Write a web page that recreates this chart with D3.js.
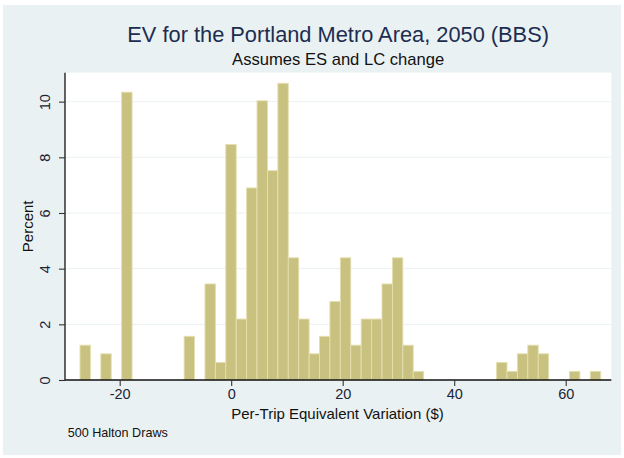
<!DOCTYPE html>
<html>
<head>
<meta charset="utf-8">
<script src="https://cdn.jsdelivr.net/npm/d3@7"></script>
<style>
  body { margin: 0; background: #fff; }
  text { font-family: "Liberation Sans", Arial, sans-serif; }
</style>
</head>
<body>
<svg></svg>
<script>
// histogram: 50 bins, first bin starts at binStart, each binWidth wide
let binStart = -27.12
let binWidth = 1.868
let percents = [
  1.25, 0, 0.94, 0, 10.34, 0, 0, 0, 0, 0,
  1.57, 0, 3.45, 0.63, 8.46, 2.19, 6.90, 10.03, 7.52, 10.66,
  4.39, 2.19, 0.94, 1.57, 2.82, 4.39, 1.25, 2.19, 2.19, 3.45,
  4.39, 1.25, 0.31, 0, 0, 0, 0, 0, 0, 0,
  0.63, 0.31, 0.94, 1.25, 0.94, 0, 0, 0.31, 0, 0.31
]
let xTicks = [-20, 0, 20, 40, 60]
let yTicks = [0, 2, 4, 6, 8, 10]
let xDomain = [-29.81, 68.18]
let yDomain = [0, 11.04]

let w = 624
let h = 458
let svg = d3.select("svg")
let data = percents.map((p, i) => ({
  x0: binStart + i * binWidth,
  x1: binStart + (i + 1) * binWidth,
  pct: p
}))

let pLeft = 65, pRight = 611.3, pTop = 72.7, pBottom = 380
let xScale, yScale

let drawCanvas = () => {
  svg.attr("width", w).attr("height", h)

  svg.append("rect")
     .attr("x", 3).attr("y", 5)
     .attr("width", 618).attr("height", 450)
     .attr("fill", "#eaf1f3")

  svg.append("rect")
     .attr("x", pLeft).attr("y", pTop)
     .attr("width", pRight - pLeft).attr("height", pBottom - pTop)
     .attr("fill", "#ffffff")
}

let generateScales = () => {
  xScale = d3.scaleLinear().domain(xDomain).range([pLeft, pRight])
  yScale = d3.scaleLinear().domain(yDomain).range([pBottom, pTop])

  // grid lines
  svg.append("g")
     .selectAll("line")
     .data(yTicks.filter(d => d > 0))
     .enter()
     .append("line")
     .attr("x1", pLeft).attr("x2", pRight)
     .attr("y1", d => yScale(d)).attr("y2", d => yScale(d))
     .attr("stroke", "#eaf1f3")
     .attr("stroke-width", 1)
}

let drawBars = () => {
  svg.append("g")
     .selectAll("rect")
     .data(data.filter(d => d.pct > 0))
     .enter()
     .append("rect")
     .attr("x", d => xScale(d.x0))
     .attr("y", d => yScale(d.pct))
     .attr("width", d => xScale(d.x1) - xScale(d.x0))
     .attr("height", d => yScale(0) - yScale(d.pct))
     .attr("fill", "#c9c17f")
     .attr("stroke", "#e4dfaf")
     .attr("stroke-width", 0.9)
}

let drawAxes = () => {
  // plain hyphen for negatives, like the original
  let xAxis = d3.axisBottom(xScale).tickValues(xTicks).tickFormat(d => String(d))
                .tickSize(6).tickSizeOuter(0)
  let yAxis = d3.axisLeft(yScale).tickValues(yTicks).tickFormat(d => String(d))
                .tickSize(6).tickSizeOuter(0)

  let gx = svg.append("g")
     .attr("transform", `translate(0, ${pBottom})`)
     .call(xAxis)
  gx.select(".domain").attr("d", `M${pLeft},0H${pRight}`)
  gx.selectAll("text")
    .attr("font-size", 14.5)
    .attr("fill", "#1c2436")
    .attr("y", 9)

  let gy = svg.append("g")
     .attr("transform", `translate(${pLeft}, 0)`)
     .call(yAxis)
  gy.select(".domain").attr("d", `M0,${pBottom}V${pTop}`)
  gy.selectAll("text")
    .attr("font-size", 14.5)
    .attr("fill", "#1c2436")
    .attr("text-anchor", "middle")
    .attr("dy", null)
    .attr("x", null)
    .attr("transform", "translate(-15, 0) rotate(-90)")

  svg.selectAll(".domain").attr("stroke", "#111").attr("stroke-width", 1.3)
  svg.selectAll(".tick line").attr("stroke", "#333").attr("stroke-width", 1.1)

  svg.append("text")
     .attr("x", 231.2).attr("y", 418.5)
     .attr("font-size", 15)
     .attr("fill", "#111")
     .text("Per-Trip Equivalent Variation ($)")

  svg.append("text")
     .attr("transform", `translate(32.5, ${(pTop + pBottom) / 2}) rotate(-90)`)
     .attr("text-anchor", "middle")
     .attr("font-size", 15)
     .attr("fill", "#111")
     .text("Percent")
}

let drawTitles = () => {
  let cx = (pLeft + pRight) / 2
  svg.append("text")
     .attr("x", cx).attr("y", 41.5)
     .attr("text-anchor", "middle")
     .attr("font-size", 21.8)
     .attr("fill", "#1c2d50")
     .text("EV for the Portland Metro Area, 2050 (BBS)")

  svg.append("text")
     .attr("x", cx).attr("y", 65)
     .attr("text-anchor", "middle")
     .attr("font-size", 16.6)
     .attr("fill", "#111")
     .text("Assumes ES and LC change")

  svg.append("text")
     .attr("x", 67.7).attr("y", 437)
     .attr("font-size", 12.6)
     .attr("fill", "#111")
     .text("500 Halton Draws")
}

drawCanvas()
generateScales()
drawBars()
drawAxes()
drawTitles()
</script>
</body>
</html>
